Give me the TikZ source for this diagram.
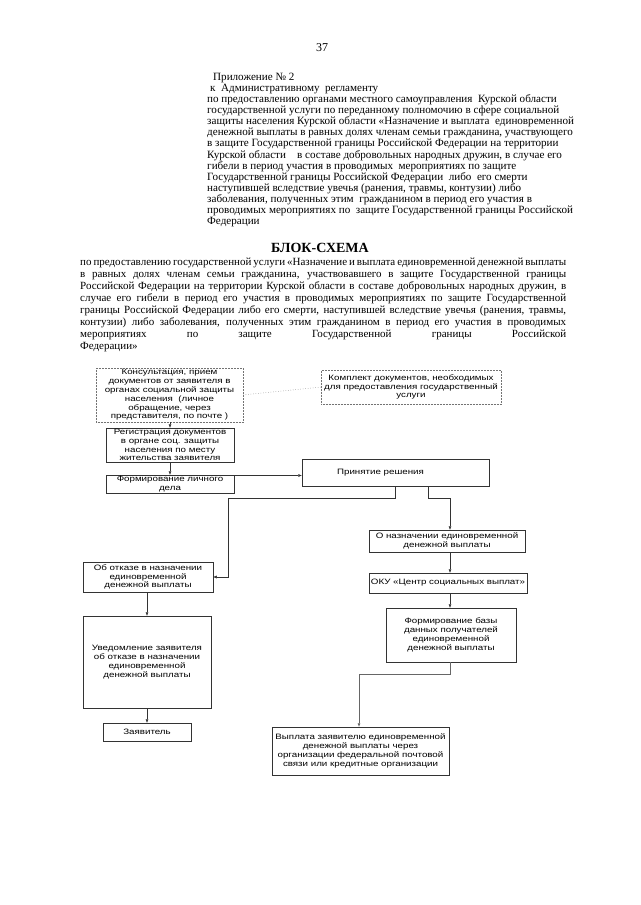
\documentclass[tikz,border=0pt]{standalone}
\usepackage{fontspec}
\setmainfont{Liberation Serif}
\newfontfamily\boxfont[FakeStretch=1.25]{Liberation Sans}
\usetikzlibrary{arrows.meta,calc}
\newcommand{\jl}[1]{\makebox[486pt][s]{#1}}
\begin{document}
\begin{tikzpicture}[x=1pt,y=-1pt,
  box/.style={draw=black!80, line width=0.5pt, inner sep=0pt, align=center, font={\boxfont\fontsize{7.8}{8.8}\selectfont}},
  dbox/.style={box, draw=black!55, densely dotted},
  arr/.style={draw=black!80, line width=0.5pt, -{Triangle[length=3.5pt,width=2.6pt]}},
  hl/.style={anchor=base west, inner sep=0pt, font={\fontsize{11.1}{13}\selectfont}},
  bl/.style={anchor=base west, inner sep=0pt, font={\fontsize{11}{13}\selectfont}}
]
\fill[white] (0,0) rectangle (640,905);
\useasboundingbox (0,0) rectangle (640,905);

\node[anchor=base, inner sep=0pt, font={\fontsize{12}{14}\selectfont}] (pg) at (322,51) {37};

% header
\node[hl] (h1) at (213,80.0) {Приложение № 2};
\node[hl] (h2) at (210,91.15) {к\ \ Административному\ \ регламенту};
\node[hl] (h3) at (207,102.3) {по предоставлению органами местного самоуправления\ \ Курской области};
\node[hl] (h4) at (207,113.45) {государственной услуги по переданному полномочию в сфере социальной};
\node[hl] (h5) at (207,124.6) {защиты населения Курской области «Назначение и выплата\ \ единовременной};
\node[hl] (h6) at (207,135.75) {денежной выплаты в равных долях членам семьи гражданина, участвующего};
\node[hl] (h7) at (207,146.9) {в защите Государственной границы Российской Федерации на территории};
\node[hl] (h8) at (207,158.05) {Курской области\ \ \ \ в составе добровольных народных дружин, в случае его};
\node[hl] (h9) at (207,169.2) {гибели в период участия в проводимых\ \ мероприятиях по защите};
\node[hl] (h10) at (207,180.35) {Государственной границы Российской Федерации\ \ либо\ \ его смерти};
\node[hl] (h11) at (207,191.5) {наступившей вследствие увечья (ранения, травмы, контузии) либо};
\node[hl] (h12) at (207,202.65) {заболевания, полученных этим\ \ гражданином в период его участия в};
\node[hl] (h13) at (207,213.8) {проводимых мероприятиях по\ \ защите Государственной границы Российской};
\node[hl] (h14) at (207,224.95) {Федерации};

% title
\node[anchor=base, inner sep=0pt, font={\fontsize{14}{16}\selectfont\bfseries}] (title) at (320,252) {БЛОК-СХЕМА};

% body
\node[bl] (b1) at (80,265.0) {\jl{по предоставлению государственной услуги «Назначение и выплата единовременной денежной выплаты}};
\node[bl] (b2) at (80,277.0) {\jl{в равных долях членам семьи гражданина, участвовавшего в защите Государственной границы}};
\node[bl] (b3) at (80,289.0) {\jl{Российской Федерации на территории Курской области в составе добровольных народных дружин, в}};
\node[bl] (b4) at (80,301.0) {\jl{случае его гибели в период его участия в проводимых мероприятиях по защите Государственной}};
\node[bl] (b5) at (80,313.0) {\jl{границы Российской Федерации либо его смерти, наступившей вследствие увечья (ранения, травмы,}};
\node[bl] (b6) at (80,325.0) {\jl{контузии) либо заболевания, полученных этим гражданином в период его участия в проводимых}};
\node[bl] (b7) at (80,337.0) {\jl{мероприятиях по защите Государственной границы Российской}};
\node[bl] (b8) at (80,349.0) {Федерации»};

% boxes
\node[dbox, minimum width=147pt, minimum height=54pt] (B1) at (169.5,395) {Консультация, прием\\документов от заявителя в\\органах социальной защиты\\населения\ \ (личное\\обращение, через\\представителя, по почте )};
\node[dbox, minimum width=180pt, minimum height=34pt] (B2) at (411,387) {Комплект документов, необходимых\\для предоставления государственный\\услуги};
\node[box, minimum width=128pt, minimum height=34pt] (B3) at (170,445) {Регистрация документов\\в органе соц. защиты\\населения по месту\\жительства заявителя};
\node[box, minimum width=128pt, minimum height=18pt] (B4) at (170,484) {Формирование личного\\дела};
\node[box, minimum width=187pt, minimum height=27pt] (B5) at (395.5,472.5) {\hspace*{-30pt}Принятие решения};
\node[box, minimum width=156pt, minimum height=22pt] (B6) at (447,541) {О назначении единовременной\\денежной выплаты};
\node[box, minimum width=158pt, minimum height=20pt] (B7) at (448,583) {ОКУ «Центр социальных выплат»};
\node[box, minimum width=130pt, minimum height=54pt] (B8) at (451,635) {Формирование базы\\данных получателей\\единовременной\\денежной выплаты};
\node[box, minimum width=130pt, minimum height=30pt] (B9) at (148,577) {Об отказе в назначении\\единовременной\\денежной выплаты};
\node[box, minimum width=177pt, minimum height=48pt] (B10) at (360.5,751) {Выплата заявителю единовременной\\денежной выплаты через\\организации федеральной почтовой\\связи или кредитные организации};
\node[box, minimum width=128pt, minimum height=92pt] (B11) at (147,662) {Уведомление заявителя\\об отказе в назначении\\единовременной\\денежной выплаты};
\node[box, minimum width=88pt, minimum height=18pt] (B12) at (147,732) {Заявитель};

% connectors
\draw[draw=black!55, line width=0.5pt, dotted] (B1.east) -- (B2.west);
\draw[arr] (B3.north |- B1.south) -- (B3.north);
\draw[arr] (B3.south) -- (B4.north);
\coordinate (k5) at (234,475.5);
\draw[arr] (k5) -- (k5 -| B5.west);
\coordinate (k1) at (228,498);
\draw[arr] (B5.south) |- (k1) |- (B9.east);
\coordinate (k3) at (428,486);
\coordinate (k2) at (450,498);
\draw[arr] (k3) |- (k2) -- (k2 |- B6.north);
\draw[arr] (k2 |- B6.south) -- (k2 |- B7.north);
\draw[arr] (k2 |- B7.south) -- (k2 |- B8.north);
\coordinate (k4) at (359,674);
\draw[arr, draw=black!60, line width=0.9pt] (k2 |- B8.south) |- (k4) -- (k4 |- B10.north);
\draw[arr] (B11.north |- B9.south) -- (B11.north);
\draw[arr] (B11.south) -- (B12.north);
\end{tikzpicture}
\end{document}
